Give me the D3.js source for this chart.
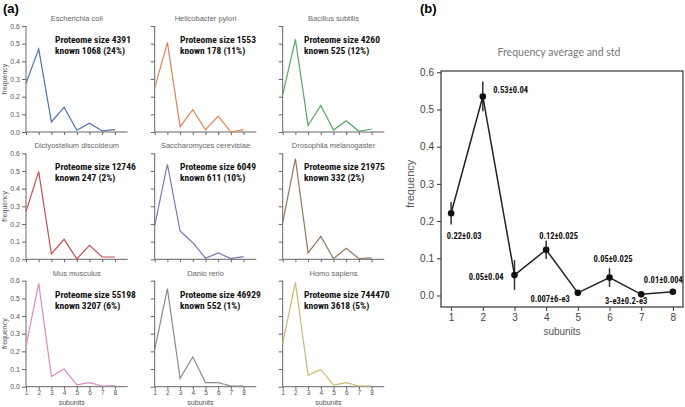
<!DOCTYPE html>
<html>
<head>
<meta charset="utf-8">
<script src="https://cdn.jsdelivr.net/npm/d3@7"></script>
<style>
  body { margin: 0; background: #fff; }
  svg { display: block; font-family: "Liberation Sans", Arial, sans-serif; }
  .note { font-family: "Liberation Sans Narrow", "Roboto Condensed", Lato, sans-serif; font-weight: bold; }
</style>
</head>
<body>
<svg id="chart"></svg>
<script>
const width = 685;
const height = 407;

// ----- DATA -----
const subunits = [1, 2, 3, 4, 5, 6, 7, 8];

const species = [
  "Escherichia coli", "Helicobacter pylori", "Bacillus subtilis",
  "Dictyostelium discoideum", "Saccharomyces cerevisiae", "Drosophila melanogaster",
  "Mus musculus", "Danio rerio", "Homo sapiens"
];
const proteomeSize = [4391, 1553, 4260, 12746, 6049, 21975, 55198, 46929, 744470];
const knownCount = [1068, 178, 525, 247, 611, 332, 3207, 552, 3618];
const knownPct = [24, 11, 12, 2, 10, 2, 6, 1, 5];

const ecoli = [0.275, 0.47, 0.057, 0.14, 0.01, 0.05, 0.006, 0.013];
const hpylori = [0.25, 0.506, 0.03, 0.126, 0.013, 0.09, 0.0, 0.013];
const bsubtilis = [0.21, 0.524, 0.038, 0.15, 0.011, 0.064, 0.004, 0.017];
const ddiscoideum = [0.27, 0.496, 0.03, 0.113, 0.002, 0.079, 0.013, 0.013];
const scerevisiae = [0.19, 0.538, 0.16, 0.094, 0.006, 0.036, 0.004, 0.015];
const dmelanogaster = [0.208, 0.57, 0.036, 0.13, 0.004, 0.062, 0.004, 0.008];
const mmusculus = [0.23, 0.585, 0.057, 0.10, 0.011, 0.023, 0.004, 0.006];
const drerio = [0.208, 0.555, 0.047, 0.168, 0.023, 0.023, 0.004, 0.004];
const hsapiens = [0.245, 0.59, 0.064, 0.098, 0.009, 0.023, 0.004, 0.004];
const freqSeries = [ecoli, hpylori, bsubtilis, ddiscoideum, scerevisiae, dmelanogaster, mmusculus, drerio, hsapiens];

const avgFreq = [0.221, 0.535, 0.055, 0.123, 0.007, 0.048, 0.003, 0.01];
const stdFreq = [0.03, 0.04, 0.04, 0.025, 0.006, 0.025, 0.0002, 0.004];
const avgLabels = ["0.22±0.03", "0.53±0.04", "0.05±0.04", "0.12±0.025",
  "0.007±6-e3", "0.05±0.025", "3-e3±0.2-e3", "0.01±0.004"];

const freqTicks = [0, 0.1, 0.2, 0.3, 0.4, 0.5, 0.6];

// seaborn "deep" palette
const colors = ["#4c72b0", "#dd8452", "#55a868", "#c44e52", "#8172b3",
  "#937860", "#da8bc3", "#8c8c8c", "#ccb974"];

const svg = d3.select("#chart")
  .attr("width", width)
  .attr("height", height)
  .attr("viewBox", [0, 0, width, height]);

// ----- PANEL (a): small multiples -----
const colX = [26, 154.7, 282.7];
const rowY = [26, 153.3, 280.7];
const noteX = [55, 180, 304];
const plotW = 101.6;
const plotH = 106;

svg.append("text")
  .attr("x", 3).attr("y", 13)
  .attr("font-size", 13).attr("font-weight", "bold")
  .text("(a)");

species.forEach((name, i) => {
  const col = i % 3;
  const row = Math.floor(i / 3);
  const g = svg.append("g").attr("transform", `translate(${colX[col]},${rowY[row]})`);

  const x = d3.scaleLinear().domain([1, 9]).range([0, plotW]);
  const y = d3.scaleLinear().domain([0, 0.6]).range([plotH, 0]);

  const yAxis = g.append("g")
    .call(d3.axisLeft(y).tickValues(freqTicks).tickSize(4).tickPadding(2)
      .tickFormat(col === 0 ? d3.format(".1f") : ""));
  const xAxis = g.append("g")
    .attr("transform", `translate(0,${plotH})`)
    .call(d3.axisBottom(x).tickValues(subunits).tickSize(3).tickPadding(1)
      .tickFormat(row === 2 ? d3.format("d") : ""));

  [yAxis, xAxis].forEach(ax => {
    ax.select(".domain").attr("stroke", "#666").attr("stroke-width", 1);
    ax.selectAll(".tick line").attr("stroke", "#666");
    ax.selectAll(".tick text").attr("fill", "#555").attr("font-size", 7).attr("font-family", null);
  });
  xAxis.selectAll(".tick text").attr("font-size", 6.5);
  yAxis.select(".domain").attr("d", `M0,0V${plotH}`);
  xAxis.select(".domain").attr("d", `M0,0H${plotW}`);

  g.append("text")
    .attr("x", x(5)).attr("y", -5)
    .attr("text-anchor", "middle")
    .attr("font-size", 7.5).attr("fill", "#666")
    .text(name);

  if (col === 0) {
    g.append("text")
      .attr("transform", `translate(${-colX[0] + 7},${y(0.3)}) rotate(-90)`)
      .attr("text-anchor", "middle")
      .attr("font-size", 7).attr("fill", "#555")
      .text("frequency");
  }
  if (row === 2) {
    g.append("text")
      .attr("x", x(4.6)).attr("y", plotH + 18)
      .attr("text-anchor", "middle")
      .attr("font-size", 7).attr("fill", "#555")
      .text("subunits");
  }

  g.append("path")
    .datum(freqSeries[i])
    .attr("fill", "none")
    .attr("stroke", colors[i])
    .attr("stroke-width", 1.2)
    .attr("d", d3.line().x((d, k) => x(subunits[k])).y(d => y(d)));

  const note = svg.append("text")
    .attr("class", "note")
    .attr("font-size", 9.5)
    .attr("fill", "#111");
  note.append("tspan")
    .attr("x", noteX[col]).attr("y", rowY[row] + 17)
    .text(`Proteome size ${proteomeSize[i]}`);
  note.append("tspan")
    .attr("x", noteX[col]).attr("y", rowY[row] + 28)
    .text(`known ${knownCount[i]} (${knownPct[i]}%)`);
});

// ----- PANEL (b): average and std -----
svg.append("text")
  .attr("x", 420).attr("y", 13)
  .attr("font-size", 13).attr("font-weight", "bold")
  .text("(b)");

const bx = d3.scaleLinear().domain([0.68, 8.32]).range([441, 683]);
const by = d3.scaleLinear().domain([-0.031, 0.6035]).range([307, 71]);

const gb = svg.append("g");

gb.append("rect")
  .attr("x", bx.range()[0]).attr("y", by.range()[1])
  .attr("width", bx.range()[1] - bx.range()[0])
  .attr("height", by.range()[0] - by.range()[1])
  .attr("fill", "none")
  .attr("stroke", "#333")
  .attr("stroke-width", 1.2);

const byAxis = gb.append("g")
  .attr("transform", `translate(${bx.range()[0]},0)`)
  .call(d3.axisLeft(by).tickValues(freqTicks).tickFormat(d3.format(".1f")).tickSize(4).tickPadding(3));
const bxAxis = gb.append("g")
  .attr("transform", `translate(0,${by.range()[0]})`)
  .call(d3.axisBottom(bx).tickValues(subunits).tickFormat(d3.format("d")).tickSize(4).tickPadding(3));
[byAxis, bxAxis].forEach(ax => {
  ax.select(".domain").remove();
  ax.selectAll(".tick line").attr("stroke", "#333");
  ax.selectAll(".tick text").attr("fill", "#444").attr("font-size", 10).attr("font-family", null);
});

gb.append("text")
  .attr("transform", `translate(414,${by(0.3)}) rotate(-90)`)
  .attr("text-anchor", "middle")
  .attr("font-size", 11).attr("fill", "#555")
  .text("frequency");

gb.append("text")
  .attr("x", (bx.range()[0] + bx.range()[1]) / 2).attr("y", 335)
  .attr("text-anchor", "middle")
  .attr("font-size", 10).attr("fill", "#555")
  .text("subunits");

gb.append("text")
  .attr("x", 559).attr("y", 56)
  .attr("text-anchor", "middle")
  .attr("font-family", "Lato, sans-serif")
  .attr("font-size", 10.5).attr("fill", "#777")
  .text("Frequency average and std");

// error bars
gb.selectAll(".err")
  .data(subunits)
  .join("line")
  .attr("class", "err")
  .attr("x1", d => bx(d)).attr("x2", d => bx(d))
  .attr("y1", (d, k) => by(avgFreq[k] + stdFreq[k]))
  .attr("y2", (d, k) => by(avgFreq[k] - stdFreq[k]))
  .attr("stroke", "#333")
  .attr("stroke-width", 1.5);

gb.append("path")
  .datum(avgFreq)
  .attr("fill", "none")
  .attr("stroke", "#222")
  .attr("stroke-width", 1.5)
  .attr("d", d3.line().x((d, k) => bx(subunits[k])).y(d => by(d)));

gb.selectAll(".dot")
  .data(avgFreq)
  .join("circle")
  .attr("class", "dot")
  .attr("cx", (d, k) => bx(subunits[k]))
  .attr("cy", d => by(d))
  .attr("r", 3.3)
  .attr("fill", "#111");

// label placement relative to each point
const labelAnchor = ["middle", "start", "end", "middle", "end", "middle", "middle", "middle"];
const labelDx = [13, 10.5, -11, 12.5, -8, 3.5, -15, -9.5];
const labelDy = [23, -6.5, 2, -14, 6, -18.7, 7, -11.7];

gb.selectAll(".lbl")
  .data(avgLabels)
  .join("text")
  .attr("class", "lbl note")
  .attr("x", (d, k) => bx(subunits[k]) + labelDx[k])
  .attr("y", (d, k) => by(avgFreq[k]) + labelDy[k])
  .attr("dy", "0.35em")
  .attr("text-anchor", (d, k) => labelAnchor[k])
  .attr("font-size", 8.5)
  .attr("fill", "#111")
  .text(d => d);
</script>
</body>
</html>
